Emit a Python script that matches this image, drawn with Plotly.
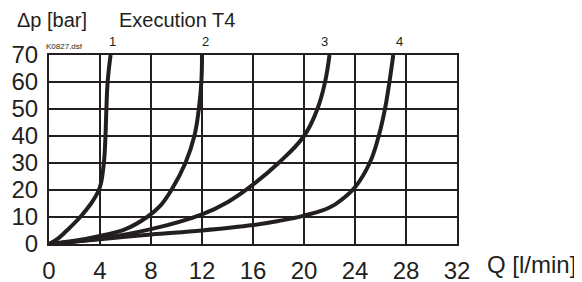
import plotly.graph_objects as go

# Curve data (Q in l/min, dp in bar)
q1 = [0, 0.7, 1.4, 2.45, 3.3, 3.7, 3.95, 4.12, 4.24, 4.34, 4.43, 4.5, 4.6, 4.83]
p1 = [0, 2, 5, 10, 15, 18, 20.5, 23.5, 27.5, 32, 40, 50, 60, 70]

q2 = [0, 2, 4, 6, 7.7, 8.7, 9.6, 10.7, 11.4, 11.75, 11.95, 12]
p2 = [0, 1.2, 3, 5.5, 10, 14, 20, 30, 40, 50, 60, 70]

q3 = [0, 4, 8, 12, 14, 16, 18, 20, 21.05, 21.65, 22]
p3 = [0, 2, 5.5, 11, 15.5, 22, 30, 40, 50, 60, 70]

q4 = [0, 4, 8, 12, 16, 18, 20, 22, 23.1, 24, 25.15, 25.86, 26.35, 26.7, 27]
p4 = [0, 1.8, 3.5, 5, 7, 8.5, 10.5, 13.5, 17, 21, 30, 40, 50, 60, 70]

curve_labels = ["1", "2", "3", "4"]
curve_label_x = [5.0, 12.3, 21.6, 27.5]

x_ticks = [0, 4, 8, 12, 16, 20, 24, 28, 32]
y_ticks = [0, 10, 20, 30, 40, 50, 60, 70]

FONT = "Liberation Sans, Arial, sans-serif"
INK = "#231f20"

fig = go.Figure()
for qx, py in [(q1, p1), (q2, p2), (q3, p3), (q4, p4)]:
    fig.add_trace(go.Scatter(x=qx, y=py, mode="lines",
                             line=dict(color=INK, width=4, shape="spline", smoothing=1.2),
                             showlegend=False, hoverinfo="skip", cliponaxis=True))

annotations = []
for lab, lx in zip(curve_labels, curve_label_x):
    annotations.append(dict(x=lx, y=70, xref="x", yref="y", text=lab, showarrow=False,
                            yshift=14, yanchor="middle", xanchor="center",
                            font=dict(size=13, color=INK, family=FONT)))

annotations += [
    dict(x=-0.0833, y=1.185, xref="paper", yref="paper", text="Δp [bar]", showarrow=False,
         xanchor="left", yanchor="middle", font=dict(size=20, color=INK, family=FONT)),
    dict(x=0.1667, y=1.185, xref="paper", yref="paper", text="Execution T4", showarrow=False,
         xanchor="left", yanchor="middle", font=dict(size=20, color=INK, family=FONT)),
    dict(x=-0.012, y=1.045, xref="paper", yref="paper", text="K0827.dsf", showarrow=False,
         xanchor="left", yanchor="middle", font=dict(size=8, color=INK, family=FONT)),
    dict(x=1.0686, y=-0.11, xref="paper", yref="paper", text="Q [l/min]", showarrow=False,
         xanchor="left", yanchor="middle", font=dict(size=24, color=INK, family=FONT)),
]

# page body has an 8px margin, so the figure is sized/offset to compensate
fig.update_layout(
    width=574, height=274,
    margin=dict(l=41, r=125, t=47, b=38, autoexpand=False),
    paper_bgcolor="white", plot_bgcolor="white",
    annotations=annotations,
    font=dict(family=FONT, size=24, color=INK),
)
fig.update_xaxes(range=[0, 32], tickvals=x_ticks, ticktext=[str(v) for v in x_ticks],
                 showgrid=True, gridcolor=INK, gridwidth=1.5, automargin=False,
                 showline=True, linecolor=INK, linewidth=2, mirror=True,
                 zeroline=False, ticks="", ticklabelstandoff=4,
                 tickfont=dict(size=24, family=FONT, color=INK))
fig.update_yaxes(range=[0, 70], tickvals=y_ticks, ticktext=[str(v) for v in y_ticks],
                 showgrid=True, gridcolor=INK, gridwidth=1.5, automargin=False,
                 showline=True, linecolor=INK, linewidth=2, mirror=True,
                 zeroline=False, ticks="", ticklabelstandoff=4,
                 tickfont=dict(size=24, family=FONT, color=INK))

fig.write_html("out.html")
